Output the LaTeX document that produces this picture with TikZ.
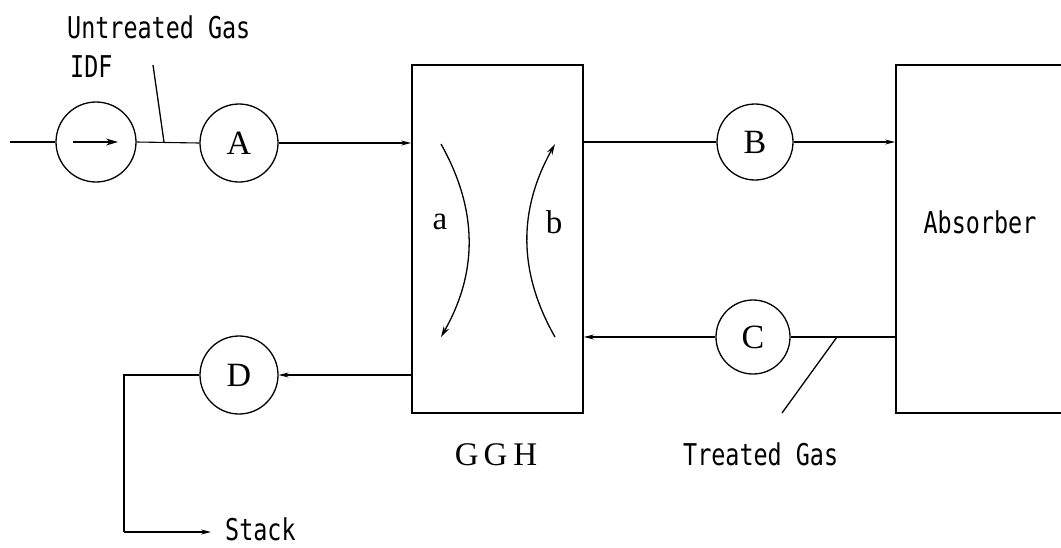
\documentclass[tikz,border=0pt]{standalone}
\usepackage{fontspec}
\setmainfont{Liberation Serif}
\newfontfamily\labelfont{DejaVu Sans Mono}[FakeStretch=0.78]
\usetikzlibrary{arrows.meta,calc}
\begin{document}
\begin{tikzpicture}[x=1pt,y=-1pt,
  flow/.style={line width=1.1pt},
  tipped/.style={flow,-{Stealth[length=10pt,width=5pt]}},
  unit/.style={circle,draw,line width=1.3pt,minimum size=78pt,inner sep=0pt,font=\fontsize{34}{34}\selectfont},
  vessel/.style={rectangle,draw,line width=1.7pt,inner sep=0pt},
  tag/.style={inner sep=0pt,font=\labelfont\fontsize{30}{30}\selectfont},
  serif/.style={inner sep=0pt,font=\fontsize{33}{33}\selectfont}]
\clip (0,0) rectangle (1061,547);
\fill[white] (0,0) rectangle (1061,547);

% equipment
\node[unit,minimum size=80pt] (fan) at (96,142) {};
\node[unit] (A) at (239,143) {A};
\node[vessel,minimum width=171pt,minimum height=348pt] (ggh) at (497.5,239) {};
\node[unit,minimum size=76pt] (B) at (755,142) {B};
\node[vessel,minimum width=178pt,minimum height=348pt] (abs) at (985,239) {};
\node[unit,minimum size=74pt] (C) at (753,337) {C};
\node[unit] (D) at (239,375) {D};

% labels
\node[tag,anchor=base west] (untreated) at (67,38) {Untreated Gas};
\node[tag,anchor=base west] (idf) at (70,77) {IDF};
\node[tag] (absl) at (980,222) {Absorber};
\node[tag,anchor=base west] (treated) at (683,465) {Treated Gas};
\node[tag,anchor=base west] (stack) at (225,540) {Stack};
\node[serif,anchor=base] (gghl) at (496,465) {G\hspace{5pt}G\hspace{6pt}H};
\node[serif] (la) at (440,222) {a};
\node[serif] (lb) at (554,222) {b};

% fan symbol
\draw[flow,-{Stealth[length=12pt,width=7pt]}] ([xshift=-23pt]fan.center) -- ([xshift=22pt]fan.center);

% gas path
\coordinate (inlet) at (10,142);
\draw[flow] (inlet) -- (fan.west);
\draw[flow] (fan.east) -- (A.west);
\draw[tipped] (A.east) -- (A.east -| ggh.west);
\draw[flow] (B.west -| ggh.east) -- (B.west);
\draw[tipped] (B.east) -- (B.east -| abs.west);
\draw[flow] (C.east -| abs.west) -- (C.east);
\draw[tipped] (C.west) -- (C.west -| ggh.east);
\draw[tipped] (D.east -| ggh.west) -- (D.east);
\coordinate (bend) at (124,375);
\coordinate (stacktip) at (211,532);
\draw[flow] (D.west) -- (bend) -- (bend |- stacktip);
\draw[tipped] (bend |- stacktip) -- (stacktip);

% leaders
\coordinate (idfend) at (153,65);
\coordinate (idfpt) at (164,142);
\draw[line width=1.3pt] (idfend) -- (idfpt);
\coordinate (tgpt) at (837,337);
\coordinate (tgend) at (782,413);
\draw[line width=1.3pt] (tgpt) -- (tgend);

% heat-exchange arcs in the GGH
\coordinate (a1) at (441,144);
\coordinate (a2) at (441,337);
\coordinate (b1) at (555,337);
\coordinate (b2) at (555,144);
\draw[line width=1.3pt,-{Stealth[length=11pt,width=6pt]}] (a1) .. controls (478,210) and (478,272) .. (a2);
\draw[line width=1.3pt,-{Stealth[length=11pt,width=6pt]}] (b1) .. controls (518,272) and (518,210) .. (b2);
\end{tikzpicture}
\end{document}
